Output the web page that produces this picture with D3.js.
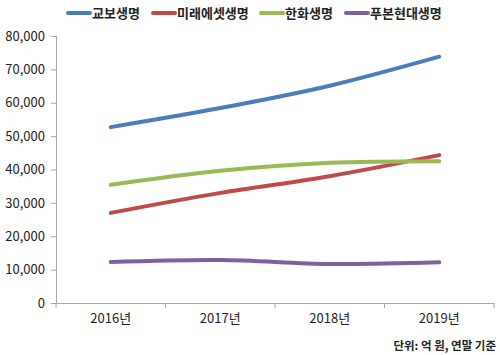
<!DOCTYPE html>
<html><head><meta charset="utf-8">
<script src="https://cdn.jsdelivr.net/npm/d3@7"></script>
<style>body{margin:0;background:#fff;}svg{display:block;font-family:"Noto Sans CJK KR","Noto Sans",sans-serif;}</style>
</head><body>
<svg id="c" width="500" height="355"></svg>
<script>
const categories = ["2016년","2017년","2018년","2019년"];
const seriesNames = ["교보생명","미래에셋생명","한화생명","푸본현대생명"];
const kyobo = [52700, 58400, 65100, 73800];
const mirae = [27000, 33000, 38000, 44300];
const hanwha = [35400, 39600, 42000, 42500];
const fubon = [12300, 12900, 11700, 12200];
const yTicks = [0,10000,20000,30000,40000,50000,60000,70000,80000];
const colors = ["#4a7ebb","#be4b48","#98b954","#7d60a0"];
const note = "단위: 억 원, 연말 기준";

(function(){
const data = [kyobo, mirae, hanwha, fubon];
const svg = d3.select("#c");
const mL = 56, mR = 494, mT = 36, mB = 303;
const x = d3.scaleBand().domain(categories).range([mL, mR]);
const y = d3.scaleLinear().domain([0, 80000]).range([mB, mT]);
const fmt = d3.format(",");

const ya = svg.append("g").attr("transform", `translate(${mL},0)`)
  .call(d3.axisLeft(y).tickValues(yTicks).tickFormat(fmt).tickSizeOuter(0).tickSize(5).tickPadding(6));
ya.select(".domain").attr("stroke","#a6a6a6");
ya.selectAll(".tick line").attr("stroke","#a6a6a6");
ya.selectAll("text").attr("font-size",13).attr("fill","#222").attr("font-family","Noto Sans CJK KR");

const xa = svg.append("g").attr("transform", `translate(0,${mB})`)
  .call(d3.axisBottom(x).tickSize(0).tickSizeOuter(0).tickPadding(11));
xa.select(".domain").attr("stroke","#a6a6a6");
xa.selectAll("text").attr("font-size",13).attr("fill","#222").attr("font-family","Noto Sans CJK KR");
const bounds = categories.map(c => x(c)).concat([mR]);
xa.selectAll(".bt").data(bounds).enter().append("line")
  .attr("x1", d=>d).attr("x2", d=>d).attr("y1",0).attr("y2",5).attr("stroke","#a6a6a6");

const line = d3.line()
  .x((d,i) => x(categories[i]) + x.bandwidth()/2)
  .y(d => y(d))
  .curve(d3.curveCatmullRom.alpha(0));
data.forEach((s,k) => {
  svg.append("path").attr("d", line(s)).attr("fill","none")
    .attr("stroke", colors[k]).attr("stroke-width",4).attr("stroke-linecap","round");
});

const lx = [68, 153, 261, 346];
seriesNames.forEach((n,k) => {
  svg.append("line").attr("x1", lx[k]).attr("x2", lx[k]+22).attr("y1",13).attr("y2",13)
    .attr("stroke", colors[k]).attr("stroke-width",4).attr("stroke-linecap","round");
  svg.append("text").attr("x", lx[k]+24).attr("y", 18).text(n)
    .attr("font-size",13).attr("font-weight","bold").attr("fill","#222");
});

svg.append("text").attr("x",496).attr("y",350).attr("text-anchor","end")
  .attr("font-size",11.5).attr("font-weight","bold").attr("fill","#222").text(note);
})();
</script>
</body></html>
